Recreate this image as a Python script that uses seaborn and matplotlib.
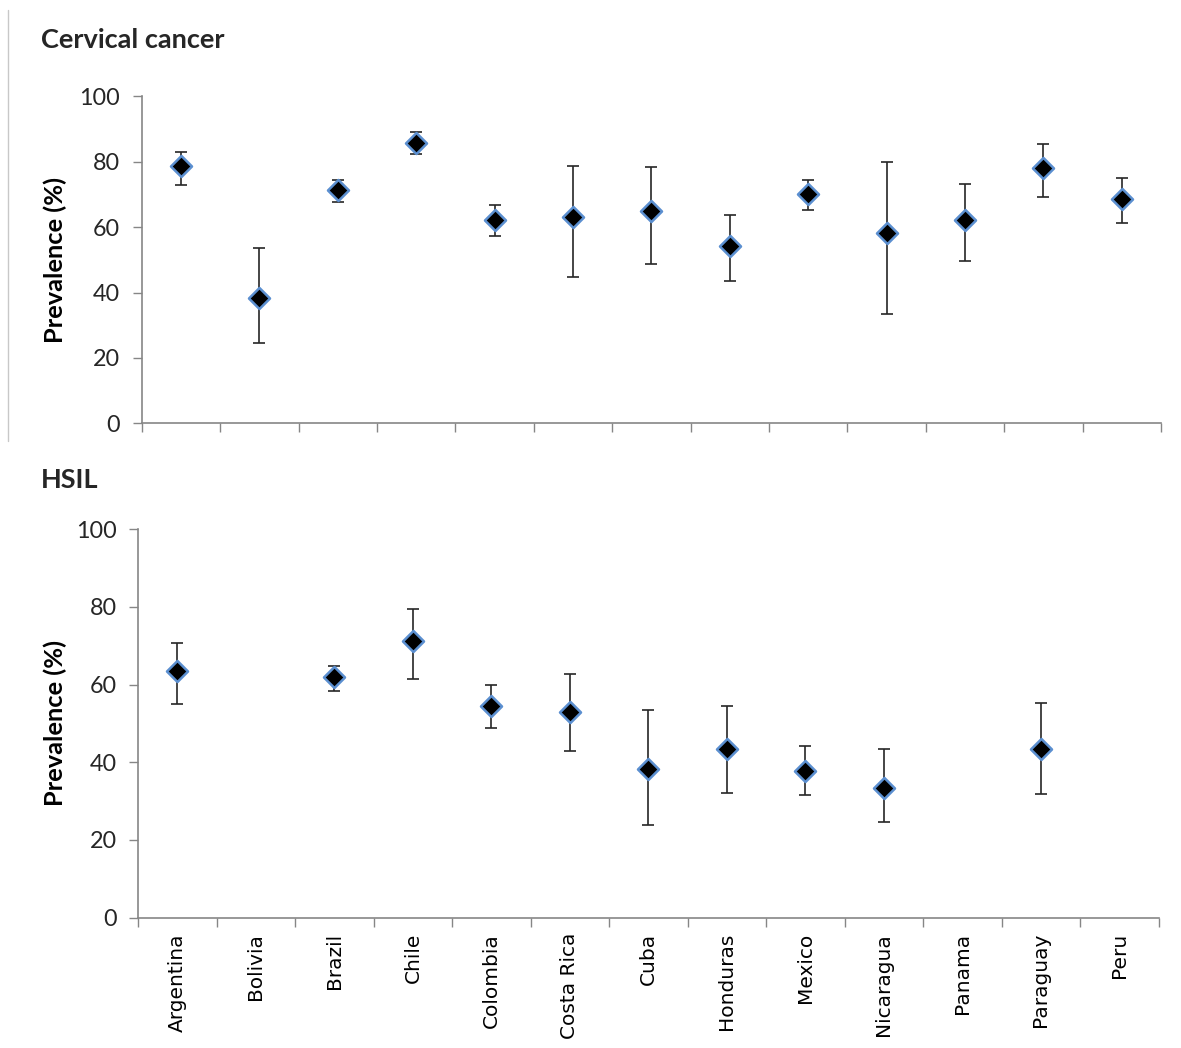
import numpy as np
import pandas as pd
import matplotlib
matplotlib.use("Agg")
import matplotlib.pyplot as plt
from matplotlib.lines import Line2D
import seaborn as sns

# Countries on the shared category axis
countries = ["Argentina", "Bolivia", "Brazil", "Chile", "Colombia", "Costa Rica",
             "Cuba", "Honduras", "Mexico", "Nicaragua", "Panama", "Paraguay", "Peru"]

# Cervical cancer: prevalence (%) with 95% CI bounds
cc_prev = [78.6, 38.5, 71.4, 85.7, 62.2, 63.1, 64.9, 54.2, 70.3, 58.2, 62.2, 78.1, 68.6]
cc_low = [72.9, 24.7, 67.7, 82.4, 57.3, 44.8, 48.9, 43.7, 65.4, 33.5, 49.6, 69.1, 61.3]
cc_high = [83.1, 53.7, 74.5, 89.0, 66.8, 78.6, 78.3, 63.6, 74.5, 79.8, 73.1, 85.3, 74.9]

# HSIL: prevalence (%) with 95% CI bounds (no data for Bolivia, Panama, Peru)
hsil_prev = [63.5, np.nan, 61.9, 71.2, 54.5, 52.9, 38.2, 43.4, 37.8, 33.5, np.nan, 43.4, np.nan]
hsil_low = [55.0, np.nan, 58.4, 61.4, 48.8, 43.0, 23.8, 32.1, 31.6, 24.7, np.nan, 31.8, np.nan]
hsil_high = [70.7, np.nan, 64.8, 79.4, 59.9, 62.7, 53.4, 54.6, 44.2, 43.3, np.nan, 55.3, np.nan]

y_ticks = [0, 20, 40, 60, 80, 100]

sns.set_style("white")
plt.rcParams["font.family"] = ["Lato", "DejaVu Sans"]

AXIS_GREY = "#868686"
EDGE_BLUE = "#5b8fd0"
BAR_COLOR = "#262626"

fig = plt.figure(figsize=(11.81, 10.48), dpi=100)
ax_top = fig.add_axes([0.120, 0.596, 0.863, 0.312])
ax_bot = fig.add_axes([0.117, 0.1243, 0.864, 0.3709])


def draw_panel(ax, prev, low, high, show_labels):
    df = pd.DataFrame({"country": countries, "pos": np.arange(len(countries)),
                       "prev": prev, "low": low, "high": high}).dropna()
    yerr = np.vstack([df["prev"] - df["low"], df["high"] - df["prev"]])
    ax.errorbar(df["pos"], df["prev"], yerr=yerr, fmt="none", ecolor=BAR_COLOR,
                elinewidth=1.2, capsize=4.6, capthick=1.2, zorder=2)
    sns.scatterplot(data=df, x="pos", y="prev", marker="D", s=115, color="black",
                    edgecolor=EDGE_BLUE, linewidth=1.8, zorder=3, ax=ax, legend=False)

    ax.set_xlim(-0.5, len(countries) - 0.5)
    ax.set_ylim(0, 100)
    ax.set_yticks(y_ticks)
    ax.tick_params(axis="y", direction="out", length=6.5, width=1, color=AXIS_GREY,
                   labelsize=16.8, labelcolor="#262626", pad=9, left=True)

    ax.set_xticks(np.arange(-0.5, len(countries), 1.0))
    ax.set_xticklabels([])
    ax.tick_params(axis="x", which="major", direction="out", length=6.5, width=1,
                   color=AXIS_GREY, bottom=True)
    ax.set_xticks(np.arange(len(countries)), minor=True)
    if show_labels:
        ax.set_xticklabels(countries, minor=True, rotation=90, fontsize=14.5,
                           family="DejaVu Sans", color="black")
    else:
        ax.set_xticklabels([], minor=True)
    ax.tick_params(axis="x", which="minor", length=0, pad=11)

    for side in ("top", "right"):
        ax.spines[side].set_visible(False)
    for side in ("left", "bottom"):
        ax.spines[side].set_color(AXIS_GREY)
        ax.spines[side].set_linewidth(1.2)

    ax.set_xlabel("")
    ax.set_ylabel("Prevalence (%)", fontsize=18.3, fontweight="bold", color="black")


draw_panel(ax_top, cc_prev, cc_low, cc_high, show_labels=False)
draw_panel(ax_bot, hsil_prev, hsil_low, hsil_high, show_labels=True)
ax_top.yaxis.set_label_coords(-0.073, 0.5)
ax_bot.yaxis.set_label_coords(-0.070, 0.5)

fig.text(41 / 1181, 1 - 40 / 1048, "Cervical cancer", fontsize=19.5,
         fontweight="bold", va="center", ha="left")
fig.text(41 / 1181, 1 - 480 / 1048, "HSIL", fontsize=19.5,
         fontweight="bold", va="center", ha="left")

# thin frame edge at the left of the upper panel
fig.add_artist(Line2D([7.5 / 1181, 7.5 / 1181], [1 - 10 / 1048, 1 - 441 / 1048],
                      color="#c8c8c8", linewidth=1, transform=fig.transFigure))

fig.savefig("out.png", dpi=100, facecolor="white")
